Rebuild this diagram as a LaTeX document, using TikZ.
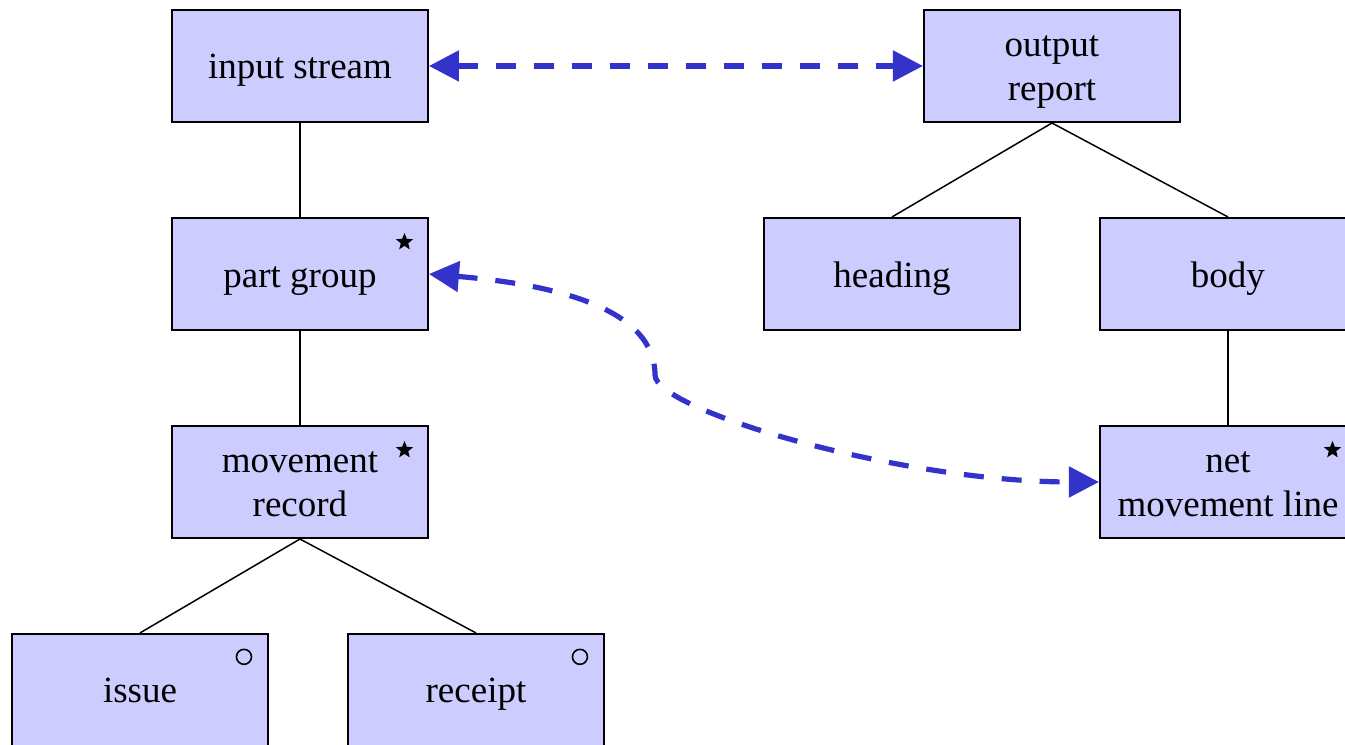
\documentclass[tikz,border=0pt]{standalone}
\usepackage{fontspec}
\setmainfont{Liberation Serif}
\usetikzlibrary{arrows.meta,shapes.geometric}
\definecolor{boxfill}{RGB}{204,204,255}
\definecolor{linkblue}{RGB}{51,51,204}
\newcommand{\boxstrut}{\rule[-4.5pt]{0pt}{22pt}}
\begin{document}
\begin{tikzpicture}[
  box/.style={draw,line width=1pt,fill=boxfill,minimum width=4.5cm,minimum height=1.97cm,align=center,font=\fontsize{18.5}{22}\selectfont},
  link/.style={linkblue,line width=2.6pt,dash pattern=on 10pt off 9pt,{Triangle[length=15pt,width=15pt]}-{Triangle[length=15pt,width=15pt]}},
  rep/.style={star,star points=5,star point ratio=2.3,fill,minimum size=9pt,inner sep=0pt},
  opt/.style={circle,draw,line width=0.8pt,minimum size=7.5pt,inner sep=0pt}]

\useasboundingbox (0,0) rectangle (23.643,13.096);

\node (A) at (5.273,11.936) [box] {\boxstrut input stream};
\node (B) at (5.273,8.279) [box] {\boxstrut part group};
\node (C) at (5.273,4.623) [box] {\boxstrut movement\\\boxstrut record};
\node (D) at (2.461,0.967) [box] {\boxstrut issue};
\node (E) at (8.367,0.967) [box] {\boxstrut receipt};
\node (F) at (18.492,11.936) [box] {\boxstrut output\\\boxstrut report};
\node (G) at (15.680,8.279) [box] {\boxstrut heading};
\node (H) at (21.586,8.279) [box] {\boxstrut body};
\node (I) at (21.586,4.623) [box] {\boxstrut net\\\boxstrut movement line};

\node (B1) at ([shift={(-0.43,-0.44)}]B.north east) [rep] {};
\node (C1) at ([shift={(-0.43,-0.44)}]C.north east) [rep] {};
\node (I1) at ([shift={(-0.43,-0.44)}]I.north east) [rep] {};
\node (D1) at ([shift={(-0.44,-0.42)}]D.north east) [opt] {};
\node (E1) at ([shift={(-0.44,-0.42)}]E.north east) [opt] {};

\draw [line width=0.75pt] (A) -- (B);
\draw [line width=0.75pt] (B) -- (C);
\draw [line width=0.75pt] (C.south) -- (D.north);
\draw [line width=0.75pt] (C.south) -- (E.north);
\draw [line width=0.75pt] (F.south) -- (G.north);
\draw [line width=0.75pt] (F.south) -- (H.north);
\draw [line width=0.75pt] (H) -- (I);

\coordinate (M) at (11.514,6.504);
\draw [link] (A.east) -- (F.west);
\draw [link] (B.east) .. controls (9.844,8.086) and (11.514,7.646) .. (M)
  .. controls (11.514,5.889) and (15.820,4.623) .. (I.west);

\end{tikzpicture}
\end{document}
